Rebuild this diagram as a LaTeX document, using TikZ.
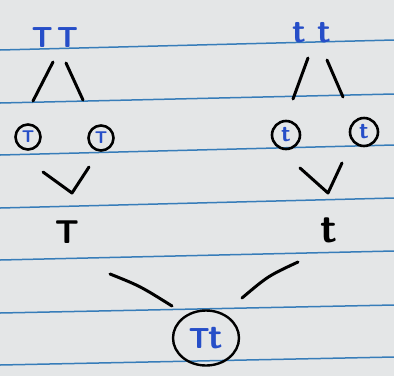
\documentclass[tikz,border=0pt]{standalone}
\usepackage{xcolor}
\usetikzlibrary{arrows.meta,calc,positioning,shapes.geometric}
\definecolor{paper}{RGB}{228,230,231}
\definecolor{rule}{RGB}{55,125,185}
\definecolor{ink}{RGB}{38,78,200}
\begin{document}
\begin{tikzpicture}[x=1pt,y=-1pt,line cap=round,line join=round]
\tikzset{par/.style={text=ink,font=\fontsize{29}{31}\sffamily\bfseries,inner sep=0pt},gam/.style={draw,circle,line width=2.6pt,text=ink,font=\fontsize{17}{18}\sffamily\bfseries,inner sep=0pt},all/.style={font=\fontsize{33}{35}\sffamily\bfseries,inner sep=0pt},kid/.style={draw,ellipse,line width=2.4pt,text=ink,font=\fontsize{29}{31}\sffamily\bfseries,minimum width=66pt,minimum height=55pt,inner sep=0pt},stroke/.style={line width=3pt}}
\fill[paper] (0,0) rectangle (394,376);
\useasboundingbox (0,0) rectangle (394,376);
% ruled lines of the sheet
\foreach \l/\r in {50/40,103/94,155/145,208/198,260/251,313/305,365/357}
  \draw[rule,line width=1.5pt] (0,\l)--(394,\r);
% parents
\node[par] (TT) at (55,38) {T\kern4pt T}; \node[par,font=\fontsize{34}{36}\sffamily\bfseries] (tt) at (312,33) {t\kern12pt t};
% gametes
\node[gam,minimum size=25pt] (g1) at (28,137) {T}; \node[gam,minimum size=25pt] (g2) at (101,138) {T};
\node[gam,minimum size=28pt,font=\fontsize{24}{25}\sffamily\bfseries] (g3) at (286,135) {t}; \node[gam,minimum size=28pt,font=\fontsize{24}{25}\sffamily\bfseries] (g4) at (364,132) {t};
\node[all] (T) at (67,232) {T}; \node[all,font=\fontsize{42}{44}\sffamily\bfseries] (t) at (329,230) {t};
\node[kid] (Tt) at (206,338) {T\kern-1pt{\fontsize{36}{38}\selectfont t}};
% end points of the strokes
\coordinate (p1) at (53,62); \coordinate (p2) at (33,101); \coordinate (p3) at (66,63); \coordinate (p4) at (83,100);
\coordinate (q1) at (308,58); \coordinate (q2) at (293,99); \coordinate (q3) at (327,60); \coordinate (q4) at (343,97);
\coordinate (v1) at (43,172); \coordinate (v2) at (72,193); \coordinate (v3) at (89,167);
\coordinate (w1) at (300,168); \coordinate (w2) at (328,193); \coordinate (w3) at (342,163);
\coordinate (b1) at (110,274); \coordinate (b2) at (172,306); \coordinate (c1) at (298,262); \coordinate (c2) at (242,298);
\draw[stroke] (p1)--(p2); \draw[stroke] (p3)--(p4); \draw[stroke] (q1)--(q2); \draw[stroke] (q3)--(q4);
\draw[stroke] (v1)--(v2)--(v3); \draw[stroke] (w1)--(w2)--(w3);
\draw[stroke] (b1) .. controls (140,286) .. (b2); \draw[stroke] (c1) .. controls (268,276) .. (c2);
\end{tikzpicture}
\end{document}
